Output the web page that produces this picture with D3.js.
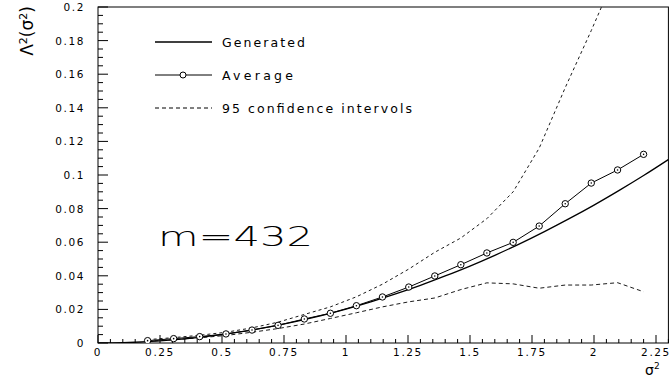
<!DOCTYPE html>
<html><head><meta charset="utf-8">
<script src="https://cdn.jsdelivr.net/npm/d3@7"></script>
<style>body{margin:0;background:#fff}svg{display:block}text{font-family:"DejaVu Sans",sans-serif;fill:#000}</style>
</head><body>
<script>
// Data
const genX = [0,0.1,0.2,0.3,0.4,0.5,0.6,0.7,0.8,0.9,1.0,1.1,1.2,1.3,1.4,1.5,1.6,1.7,1.8,1.9,2.0,2.1,2.2,2.3];
const genY = [0,0.0002,0.0008,0.0018,0.0032,0.005,0.0072,0.0099,0.0129,0.0163,0.0202,0.0245,0.0292,0.0343,0.0399,0.0458,0.0522,0.059,0.0663,0.074,0.0821,0.0907,0.0997,0.1092];
const avgX = [0.2,0.305,0.41,0.516,0.621,0.726,0.832,0.937,1.042,1.147,1.253,1.358,1.463,1.568,1.674,1.779,1.884,1.989,2.095,2.2];
const avgY = [0.0014,0.0026,0.0038,0.0054,0.0077,0.0105,0.0143,0.0177,0.0222,0.0274,0.0333,0.0399,0.0466,0.0536,0.0599,0.0696,0.0829,0.0952,0.103,0.1123];
const ciLow = [0.001,0.002,0.0031,0.0045,0.0064,0.0086,0.0113,0.0146,0.018,0.0215,0.0245,0.0268,0.0318,0.0358,0.0352,0.0326,0.0345,0.0345,0.0359,0.0305];
const ciHigh = [0.002,0.0032,0.0046,0.0064,0.009,0.0124,0.017,0.0215,0.0275,0.035,0.044,0.054,0.0625,0.074,0.09,0.116,0.152,0.186,0.222,0.255];
const xTicks = [0,0.25,0.5,0.75,1,1.25,1.5,1.75,2,2.25];
const xTickLabels = ["0","0.25","0.5","0.75","1","1.25","1.5","1.75","2","2.25"];
const yTicks = [0,0.02,0.04,0.06,0.08,0.1,0.12,0.14,0.16,0.18,0.2];
const yTickLabels = ["0","0.02","0.04","0.06","0.08","0.1","0.12","0.14","0.16","0.18","0.2"];
const legendLabels = ["Generated","Average","95 confidence intervols"];
const annotation = "m=432";

const W=672,H=378;
const svg=d3.select("body").append("svg").attr("width",W).attr("height",H);
const x=d3.scaleLinear().domain([0,2.3]).range([98,668.4]);
const y=d3.scaleLinear().domain([0,0.2]).range([343,7]);

svg.append("defs").append("clipPath").attr("id","clip").append("rect")
  .attr("x",98).attr("y",7).attr("width",570.4).attr("height",336);

// frame
svg.append("rect").attr("x",98).attr("y",7).attr("width",570.4).attr("height",336)
  .attr("fill","none").attr("stroke","#000").attr("stroke-width",1);

// x axis ticks
const xMinor=d3.range(0,2.3001,0.05);
const gx=svg.append("g");
gx.selectAll("line.mi").data(xMinor).join("line")
  .attr("x1",d=>x(d)).attr("x2",d=>x(d)).attr("y1",343).attr("y2",d=>Math.abs(d/0.25-Math.round(d/0.25))<1e-6?335:339)
  .attr("stroke","#000");
gx.selectAll("text").data(xTicks).join("text")
  .attr("x",d=>x(d)).attr("y",356).attr("text-anchor","middle")
  .attr("font-size",10.5).attr("letter-spacing",1.6)
  .text((d,i)=>xTickLabels[i]);

// y axis ticks
const yMinor=d3.range(0,0.2001,0.005);
const gy=svg.append("g");
gy.selectAll("line").data(yMinor).join("line")
  .attr("y1",d=>y(d)).attr("y2",d=>y(d)).attr("x1",98).attr("x2",d=>Math.abs(d/0.02-Math.round(d/0.02))<1e-6?108:103)
  .attr("stroke","#000");
gy.selectAll("text").data(yTicks).join("text")
  .attr("x",85).attr("y",d=>y(d)+4).attr("text-anchor","end")
  .attr("font-size",10.5).attr("letter-spacing",1.6)
  .text((d,i)=>yTickLabels[i]);

// axis titles
svg.append("text").attr("transform","translate(33,31) rotate(-90)").attr("text-anchor","middle")
  .attr("font-size",17).html('Λ<tspan dy="-6" font-size="11">2</tspan><tspan dy="6">(σ</tspan><tspan dy="-6" font-size="11">2</tspan><tspan dy="6">)</tspan>');
svg.append("text").attr("x",645).attr("y",375).attr("font-size",14)
  .html('σ<tspan dy="-6" font-size="9">2</tspan>');

const plot=svg.append("g").attr("clip-path","url(#clip)");
const line=d3.line().x(d=>x(d[0])).y(d=>y(d[1]));

plot.append("path").datum(genX.map((v,i)=>[v,genY[i]]))
  .attr("d",line.curve(d3.curveMonotoneX)).attr("fill","none").attr("stroke","#000").attr("stroke-width",1.3);
const lineL=d3.line().x(d=>x(d[0])).y(d=>y(d[1]));
plot.append("path").datum(avgX.map((v,i)=>[v,ciLow[i]]))
  .attr("d",lineL).attr("fill","none").attr("stroke","#000").attr("stroke-width",0.9).attr("stroke-dasharray","4,3");
plot.append("path").datum(avgX.map((v,i)=>[v,ciHigh[i]]))
  .attr("d",lineL).attr("fill","none").attr("stroke","#000").attr("stroke-width",0.9).attr("stroke-dasharray","3,3");
plot.append("path").datum(avgX.map((v,i)=>[v,avgY[i]]))
  .attr("d",lineL).attr("fill","none").attr("stroke","#000").attr("stroke-width",1);
plot.selectAll("circle").data(avgX.map((v,i)=>[v,avgY[i]])).join("circle")
  .attr("cx",d=>x(d[0])).attr("cy",d=>y(d[1])).attr("r",3.2)
  .attr("fill","#fff").attr("stroke","#000").attr("stroke-width",1);
plot.selectAll("circle.dot").data(avgX.map((v,i)=>[v,avgY[i]])).join("circle").attr("class","dot")
  .attr("cx",d=>x(d[0])).attr("cy",d=>y(d[1])).attr("r",0.8).attr("fill","#000");

// legend
const lg=svg.append("g");
const ly=[42,75,108];
lg.append("line").attr("x1",155).attr("x2",212).attr("y1",ly[0]).attr("y2",ly[0]).attr("stroke","#000").attr("stroke-width",1.3);
lg.append("line").attr("x1",155).attr("x2",212).attr("y1",ly[1]).attr("y2",ly[1]).attr("stroke","#000");
lg.append("circle").attr("cx",183).attr("cy",ly[1]).attr("r",3).attr("fill","#fff").attr("stroke","#000");
lg.append("line").attr("x1",155).attr("x2",212).attr("y1",ly[2]).attr("y2",ly[2]).attr("stroke","#000").attr("stroke-dasharray","4,3");
const lw=[83,71,190];
lg.selectAll("text").data(legendLabels).join("text")
  .attr("x",222).attr("y",(d,i)=>ly[i]+4.5).attr("font-size",12.5)
  .attr("textLength",(d,i)=>lw[i]).attr("lengthAdjust","spacing").text(d=>d);

svg.append("text").attr("x",158).attr("y",246).attr("font-size",26).attr("font-weight",300)
  .attr("font-family","Lato, 'DejaVu Sans'").attr("textLength",155).attr("lengthAdjust","spacingAndGlyphs").text(annotation);
</script>
</body></html>
